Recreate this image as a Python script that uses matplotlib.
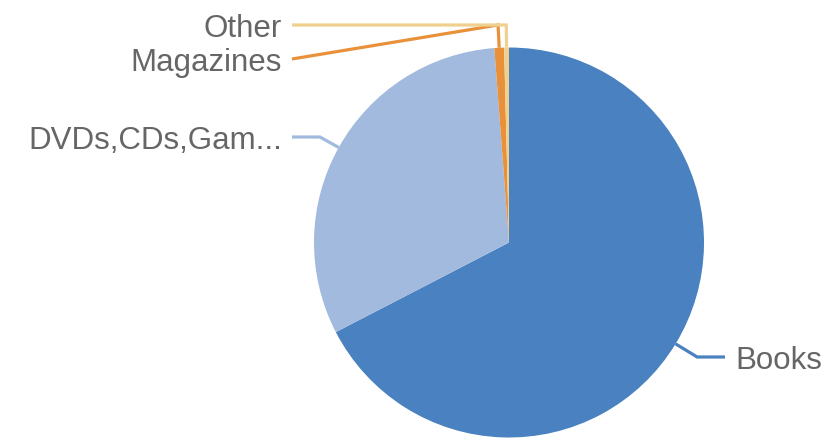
import numpy as np
import matplotlib
matplotlib.use("Agg")
import matplotlib.pyplot as plt

labels = ["Books", "DVDs,CDs,Gam...", "Magazines", "Other"]
values = [67.4, 31.4, 0.8, 0.4]
colors = ["#4a81c0", "#a3badf", "#e8913a", "#f0d08e"]

# layout (pixel coordinates, y up)
W, H = 831, 439
cx, cy, R = 509, 195.5, 195
label_pos = {"Books": (735, 81, "left"),
             "DVDs,CDs,Gam...": (282, 301, "right"),
             "Magazines": (282, 379, "right"),
             "Other": (282, 413, "right")}
knee_to = {"Books": 725, "DVDs,CDs,Gam...": 292, "Magazines": 292, "Other": 292}
top_knee_y = 413
text_shift = -3

plt.rcParams['font.family'] = ['Liberation Sans', 'DejaVu Sans']
fig = plt.figure(figsize=(W / 100, H / 100), dpi=100)
ax = fig.add_axes([0, 0, 1, 1])

wedges, _ = ax.pie(values, colors=colors, startangle=90, counterclock=False,
                   center=(cx, cy), radius=R, frame=True,
                   wedgeprops=dict(linewidth=0))
ax.set_xlim(0, W)
ax.set_ylim(0, H)
ax.set_aspect("equal")
ax.axis("off")

for w, lab, col in zip(wedges, labels, colors):
    mid = np.deg2rad((w.theta1 + w.theta2) / 2)
    dx, dy = np.cos(mid), np.sin(mid)
    p0 = (cx + R * dx, cy + R * dy)
    tx, ty, ha = label_pos[lab]
    if lab in ("Other", "Magazines"):
        t = (top_knee_y - p0[1]) / dy
    else:
        t = (ty - p0[1]) / dy
    p1 = (p0[0] + t * dx, p0[1] + t * dy)
    xs = [p0[0], p1[0], knee_to[lab]]
    ys = [p0[1], p1[1], ty]
    ax.plot(xs, ys, color=col, lw=2.3, solid_capstyle="butt", solid_joinstyle="miter")
    ax.text(tx, ty + text_shift, lab, ha=ha, va="center", fontsize=22.5, color="#666666")

fig.savefig("out.png", dpi=100)
